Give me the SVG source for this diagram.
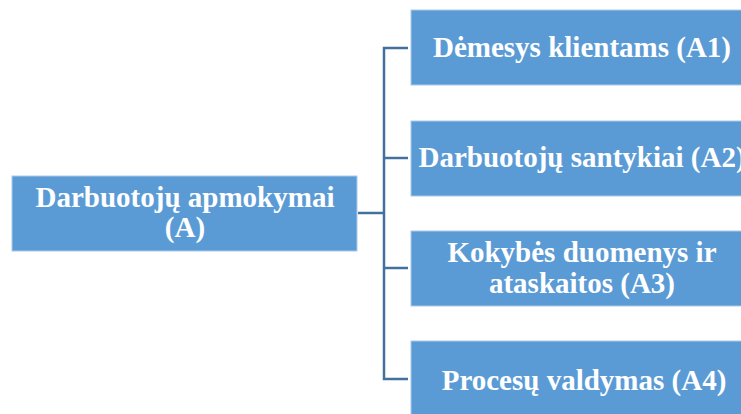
<svg xmlns="http://www.w3.org/2000/svg" width="741" height="414" viewBox="0 0 741 414">
  <style>
    .box { fill: #5B9BD5; stroke: #A9C9EA; stroke-width: 1; }
    .lbl { font-family: "Liberation Serif", "Times New Roman", serif; font-weight: bold; font-size: 29px; fill: #ffffff; text-anchor: middle; }
    .conn { fill: none; stroke: #41719C; stroke-width: 2.5; }
  </style>
  <rect width="741" height="414" fill="#ffffff"/>

  <g id="connectors">
    <path class="conn" d="M358 213 H384"/>
    <path class="conn" d="M408 48 H384 V379 H408"/>
    <path class="conn" d="M384 158 H408"/>
    <path class="conn" d="M384 268 H408"/>
  </g>

  <g id="node-A">
    <rect class="box" x="12" y="176" width="345" height="75"/>
    <text class="lbl" x="185" y="207">Darbuotojų apmokymai</text>
    <text class="lbl" x="185" y="237">(A)</text>
  </g>

  <g id="node-A1">
    <rect class="box" x="411" y="10" width="342" height="75"/>
    <text class="lbl" x="582" y="57">Dėmesys klientams (A1)</text>
  </g>

  <g id="node-A2">
    <rect class="box" x="411" y="121" width="342" height="75"/>
    <text class="lbl" x="582" y="167">Darbuotojų santykiai (A2)</text>
  </g>

  <g id="node-A3">
    <rect class="box" x="411" y="231" width="342" height="75"/>
    <text class="lbl" x="582" y="262">Kokybės duomenys ir</text>
    <text class="lbl" x="582" y="293">ataskaitos (A3)</text>
  </g>

  <g id="node-A4">
    <rect class="box" x="411" y="341" width="342" height="75"/>
    <text class="lbl" x="584" y="390">Procesų valdymas (A4)</text>
  </g>
</svg>
